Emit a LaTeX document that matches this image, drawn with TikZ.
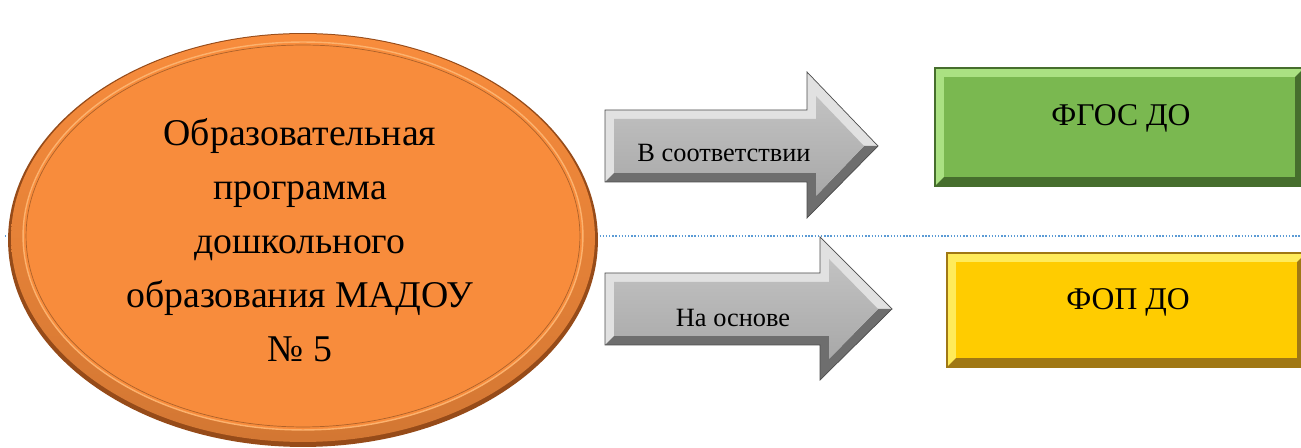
\documentclass[tikz,border=0pt]{standalone}
\usepackage{fontspec}
\setmainfont{Liberation Serif}
\usepackage{tikz}

\definecolor{dotBlue}{RGB}{91,155,213}
\definecolor{orangeBody}{RGB}{248,140,60}
\definecolor{orangeLight}{RGB}{252,178,110}
\definecolor{orangeDark}{RGB}{150,75,25}
\definecolor{grayLight}{RGB}{225,225,225}
\definecolor{grayBody}{RGB}{168,168,168}
\definecolor{grayDark}{RGB}{110,110,110}
\definecolor{greenBody}{RGB}{122,184,80}
\definecolor{greenLight}{RGB}{170,225,130}
\definecolor{greenDark}{RGB}{70,110,45}
\definecolor{yellowBody}{RGB}{255,204,0}
\definecolor{yellowLight}{RGB}{255,235,90}
\definecolor{yellowDark}{RGB}{160,120,20}

\begin{document}
\begin{tikzpicture}[x=0.02cm,y=-0.02cm,
  bigtext/.style={font=\fontsize{21.5}{30.8}\selectfont, align=center},
  arrowtext/.style={font=\fontsize{15}{18}\selectfont},
  boxtext/.style={font=\fontsize{18}{22}\selectfont}]
\useasboundingbox (0,0) rectangle (1301,448);

% пунктирная линия посередине
\draw [dotBlue, densely dotted, line width=0.8pt] (5,236) -- (1301,236);

% большой овал с ободком
\fill [orangeDark] (303,240) ellipse [x radius=5.9cm, y radius=4.14cm];
\shade [top color=orangeBody, bottom color=orangeBody!85!black] (303,238) ellipse [x radius=5.84cm, y radius=4.08cm];
\fill [orangeBody] (303,236) ellipse [x radius=5.6cm, y radius=3.88cm];
\draw [orangeLight, line width=0.8pt] (303,236) ellipse [x radius=5.6cm, y radius=3.88cm];
\draw [orangeBody!70!black, line width=0.4pt] (303,236) ellipse [x radius=5.54cm, y radius=3.82cm];
\node [bigtext] (prog) at (300,240) {Образовательная\\программа\\дошкольного\\образования МАДОУ\\№ 5};

% верхняя стрелка
\fill [grayLight] (605,110) -- (807,110) -- (807,72) -- (878,146) -- (807,218) -- (807,182) -- (605,182) -- cycle;
\fill [grayDark] (878,146) -- (807,218) -- (807,182) -- (605,182) -- (614,173) -- (816,173) -- (816,196) -- (864,146) -- cycle;
\shade [top color=grayBody!70!white, bottom color=grayBody] (614,119) -- (816,119) -- (816,96) -- (864,146) -- (816,196) -- (816,173) -- (614,173) -- cycle;
\draw [gray!60!black, line width=0.4pt] (605,110) -- (807,110) -- (807,72) -- (878,146) -- (807,218) -- (807,182) -- (605,182) -- cycle;
\node [arrowtext] (accord) at (724,153) {В соответствии};

% нижняя стрелка
\fill [grayLight] (605,273) -- (820,273) -- (820,237) -- (892,309) -- (820,380) -- (820,345) -- (605,345) -- cycle;
\fill [grayDark] (892,309) -- (820,380) -- (820,345) -- (605,345) -- (614,336) -- (829,336) -- (829,359) -- (878,309) -- cycle;
\shade [top color=grayBody!70!white, bottom color=grayBody] (614,282) -- (829,282) -- (829,259) -- (878,309) -- (829,359) -- (829,336) -- (614,336) -- cycle;
\draw [gray!60!black, line width=0.4pt] (605,273) -- (820,273) -- (820,237) -- (892,309) -- (820,380) -- (820,345) -- (605,345) -- cycle;
\node [arrowtext] (basis) at (733,318) {На основе};

% зелёный прямоугольник
\fill [greenLight] (935,68) rectangle (1304,186);
\fill [greenDark] (1304,68) -- (1304,186) -- (935,186) -- (944,177) -- (1295,177) -- (1295,77) -- cycle;
\fill [greenBody] (944,77) rectangle (1295,177);
\draw [greenDark, line width=0.6pt] (935,68) rectangle (1304,186);
\node [boxtext] (fgos) at (1121,118) {ФГОС ДО};

% жёлтый прямоугольник
\fill [yellowLight] (947,253) rectangle (1306,367);
\fill [yellowDark] (1306,253) -- (1306,367) -- (947,367) -- (956,358) -- (1297,358) -- (1297,262) -- cycle;
\fill [yellowBody] (956,262) rectangle (1297,358);
\draw [yellowDark, line width=0.6pt] (947,253) rectangle (1306,367);
\node [boxtext] (fop) at (1128,302) {ФОП ДО};

\end{tikzpicture}
\end{document}
